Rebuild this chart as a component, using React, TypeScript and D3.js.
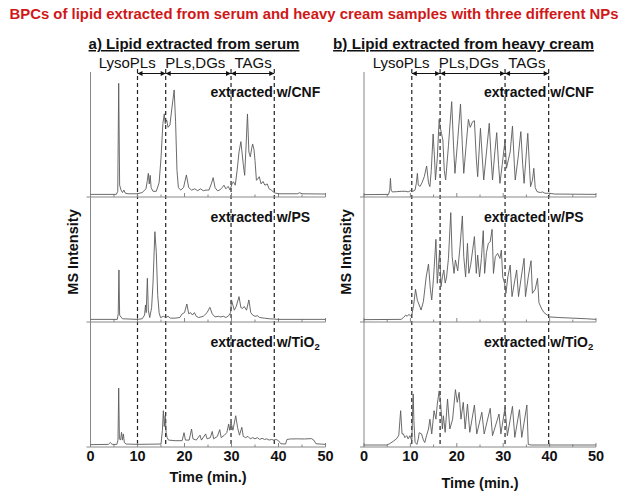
import React from "react";
import * as d3 from "d3";

type P = [number, number];

const titleText = "BPCs of lipid extracted from serum and heavy cream samples with three different NPs";
const panelTitles = ["a) Lipid extracted from serum", "b) Lipid extracted from heavy cream"];
const timeTicks = [0, 10, 20, 30, 40, 50];
const minorTicks = [5, 15, 25, 35, 45];
const regionLabels = ["LysoPLs", "PLs,DGs", "TAGs"];
const serumBounds = [10, 16, 29.9, 39.1];
const creamBounds = [10.3, 16.4, 30.4, 39.8];
const serumLabelPos = [7.8, 22.3, 34.6];
const creamLabelPos = [8.0, 22.6, 35.1];
const sampleNames = ["CNF", "PS", "TiO2"];

const serumCNF: P[] = [[0,0.5],[5.5,0.5],[5.8,3],[6.0,90.8],[6.2,8],[6.5,4],[6.8,2],[7.1,4],[7.4,1.5],[8,1],[10,1],[11,2],[11.8,5],[12.1,12],[12.3,17.6],[12.5,9],[12.7,16],[12.9,6],[13.3,3],[14,3],[14.6,10],[15.0,30],[15.4,58],[15.7,66],[15.9,58],[16.2,61],[16.5,55],[16.9,57],[17.3,70],[17.8,85.4],[18.1,60],[18.4,20],[18.7,6],[19.2,4],[19.8,6],[20.4,16.3],[20.9,6],[21.5,4],[22.2,5],[22.8,3.5],[23.4,5],[24,3.5],[24.6,4],[25.2,4],[25.7,9],[26.1,14.1],[26.5,6],[27,3.5],[27.5,4],[28,6],[28.4,8],[28.8,5],[29.3,7],[29.7,4],[30.1,9],[30.4,10.8],[30.8,8],[31.2,20],[31.6,35],[32.0,43.4],[32.5,25],[32.8,16],[33.1,40],[33.4,65.9],[33.7,35],[34.0,31],[34.3,38],[34.5,41.5],[34.8,36.6],[35.0,28],[35.3,12],[35.6,13],[35.9,14.9],[36.3,9],[36.7,11],[37.1,8],[37.6,9],[38,5],[38.5,4],[39,2],[39.4,1.5],[40,1],[44,1],[44.5,1.8],[45,1],[50,0.8]];

const serumPS: P[] = [[0,0.5],[5.7,0.5],[5.9,5],[6.05,40.7],[6.2,4],[6.5,2.4],[6.8,1],[10,0.5],[11,1],[11.5,4],[11.7,12.2],[11.85,6],[12.1,33.9],[12.3,8],[12.6,2],[13.0,10],[13.3,30],[13.7,71.8],[14.0,55],[14.3,20],[14.6,6],[14.9,1.9],[15.5,3],[16,2],[16.5,3],[17,1.5],[18,1.5],[19,2],[19.5,5],[20.0,6],[20.5,13],[20.9,5],[21.3,6],[21.7,4],[22.1,6],[22.5,3],[23,2],[24,3],[24.8,6],[25.4,10.3],[25.9,5],[26.5,2.5],[27.2,3],[27.7,2.5],[28.3,3],[28.8,2],[29.4,3.5],[29.8,6],[30.0,16.3],[30.3,12],[30.6,8],[31.0,11],[31.6,19],[32.0,10],[32.4,9.5],[32.7,11],[33.2,8],[33.7,16.3],[34.1,6],[34.5,4],[35,3],[35.5,3.5],[36,2],[37,1.5],[38,1],[39,0.8],[40,0.5],[50,0.5]];

const serumTiO2: P[] = [[0,0.3],[3.8,0.5],[4.2,2],[4.6,0.5],[5.6,0.5],[5.85,4],[6.0,46.3],[6.15,5],[6.4,4],[6.6,10.3],[6.8,4],[7.0,9],[7.2,2],[7.6,0.8],[10,0.5],[15.0,0.8],[15.3,12],[15.5,27.9],[15.7,15],[15.9,23.8],[16.1,10],[16.3,6],[16.6,4],[18,3.5],[19.5,3.5],[19.9,10],[20.2,4],[21,4],[21.5,13],[21.8,5],[22.5,4],[23.3,8],[23.6,4],[24.5,9],[24.8,5],[25.5,6],[25.9,11],[26.2,5],[27,7],[27.5,12.5],[27.8,6],[28.5,8],[29,10],[29.4,17.1],[29.6,12],[29.9,18.4],[30.3,12],[30.9,23.8],[31.3,14],[31.7,8],[32.2,14.4],[32.5,7],[33,6],[33.5,7],[34,5],[34.5,6],[35,5],[35.5,6],[36,4.5],[36.5,5.5],[37,4.5],[37.5,5],[38,4],[38.5,4.5],[39,4],[39.5,4.5],[40,3.5],[40.5,1],[41.5,0.8],[41.8,4.5],[42.5,4.9],[44,5],[45.5,4.9],[47,5.2],[47.5,4],[48,1],[50,0.5]];

const creamCNF: P[] = [[0,0.3],[5.3,0.5],[5.55,4],[5.7,13.5],[5.85,4],[6.1,2.5],[7,2.7],[8,3],[9,3],[9.5,2.5],[10,3.5],[10.5,3],[11,4],[11.3,10],[11.5,17.6],[11.7,8],[12.1,7],[12.5,10],[13.0,15],[13.5,23.6],[13.9,10],[14.2,6.8],[14.5,20],[14.9,49.6],[15.2,30],[15.4,12.2],[15.8,30],[16.2,61.5],[16.4,55.6],[16.7,50],[17.0,44.7],[17.3,20],[17.6,12.2],[18.2,40],[18.9,75.9],[19.3,40],[19.6,17.6],[20.2,45],[20.8,74],[21.2,40],[21.5,17.6],[22.0,40],[22.5,61.5],[22.9,55],[23.4,59.6],[23.8,60.4],[24.2,30],[24.5,14.9],[24.8,35],[25.1,54.2],[25.5,30],[25.8,12.2],[26.4,35],[27.0,58.3],[27.4,30],[27.7,12.2],[28.2,35],[28.6,50.7],[29,25],[29.3,9.5],[29.8,25],[30.4,44.7],[30.7,21.7],[31.5,35],[32.0,56],[32.4,25],[32.6,12.2],[33.2,30],[33.8,51.5],[34.2,25],[34.5,9.5],[35.0,35],[35.3,50.1],[35.7,20],[35.9,6.8],[36.3,12],[36.6,21.7],[36.9,6],[37.3,2.7],[38,2],[38.5,2.5],[39,1.4],[40,1.4],[41,0.8],[50,0.5]];

const creamPS: P[] = [[0,0.3],[8,0.5],[8.5,2],[9,4],[9.3,3],[9.7,4.6],[10,3.3],[10.3,4],[10.7,12],[11.1,25],[11.5,16],[11.9,12.2],[12.3,8.1],[12.8,15],[13.4,35],[13.9,45.5],[14.3,25],[14.6,16.3],[15.0,35],[15.5,65.6],[15.8,29.8],[16.3,56.9],[16.6,27.1],[16.9,35.2],[17.2,40.7],[17.5,30],[17.8,35],[18.2,50],[18.7,87.3],[19.0,51.5],[19.4,37.9],[19.7,48.8],[20.2,40],[20.7,60],[21.2,84.6],[21.5,51.5],[21.9,35],[22.3,62.3],[22.6,37.9],[23.0,45],[23.8,67.8],[24.2,37.9],[24.5,52.8],[24.9,35],[25.3,50],[25.7,72.6],[26.0,37.9],[26.4,55],[26.8,62.3],[27.2,63.7],[27.6,73.7],[27.9,37.9],[28.3,51.5],[28.8,54.2],[29.3,50],[29.6,56.9],[29.9,35],[30.3,29.8],[30.6,21.7],[31.0,35],[31.5,44.7],[31.9,19],[32.4,30],[32.9,40.7],[33.3,19],[33.9,35],[34.5,50.1],[34.8,19],[35.4,35],[36.0,48.2],[36.3,21.7],[36.9,25],[37.4,33.9],[37.7,14.1],[38.3,9],[38.8,6],[39.5,4],[40,2.5],[42,2],[45,1.5],[48,1],[50,0.5]];

const creamTiO2: P[] = [[0,0],[4.9,0],[5.5,1],[6.3,3],[7.0,5],[7.5,8],[7.9,27.9],[8.2,9],[8.5,9],[8.8,6],[9.2,7.6],[9.5,5],[9.9,7.6],[10.3,3.5],[10.6,41.5],[10.75,20],[11.0,2.2],[11.4,0.5],[11.7,5],[11.9,10],[12.4,9],[12.8,4],[13.1,2],[13.5,8],[13.9,13],[14.2,21],[14.6,9],[15.1,27.9],[15.5,21],[15.8,33.3],[16.2,44],[16.5,34.7],[16.9,13],[17.1,23.8],[17.5,10.3],[18.0,37.4],[18.5,13],[19.1,21],[19.7,45],[20.1,34.7],[20.5,42.8],[20.9,21],[21.4,34.7],[21.8,13],[22.3,33.3],[22.8,10.3],[23.8,32.5],[24.3,9],[25.4,26.6],[25.9,9],[27.2,29.8],[27.7,7.6],[29.1,25.2],[29.5,9],[30.4,30.6],[30.9,7.6],[32.0,31.4],[32.5,6.2],[33.5,28.7],[34.0,6.2],[35.1,32.5],[35.4,0.5],[36,0],[50,0]];

const FONT = "'Liberation Sans', Arial, Helvetica, sans-serif";
const TOP = 72;
const SUB_H = 125;

function Panel({ x0, x1, title, titleX, titleSize, bounds, labelPos, traces, yLabelX, xLabelY }: any) {
  const x = d3.scaleLinear().domain([0, 50]).range([x0, x1]);
  const subs = traces.map((_: any, i: number) => {
    const bottom = TOP + SUB_H * (i + 1);
    return d3.scaleLinear().domain([0, 100]).range([bottom - 2, bottom - SUB_H]);
  });
  const arrowY = 73.5;
  const bottomAxis = TOP + SUB_H * 3;
  return (
    <g>
      <text x={titleX} y={49} fontFamily={FONT} fontWeight="bold" fontSize={titleSize} textAnchor="middle" fill="#111" textDecoration="underline">{title}</text>
      {regionLabels.map((l, i) => (
        <text key={l} x={x(labelPos[i])} y={68} fontFamily={FONT} fontSize={15} textAnchor="middle" fill="#111">{l}</text>
      ))}
      {bounds.slice(0, -1).map((b: number, i: number) => {
        const a = x(b), c = x(bounds[i + 1]);
        return (
          <g key={i}>
            <line x1={a} x2={c} y1={arrowY} y2={arrowY} stroke="#111" strokeWidth={1} />
            <path d={`M${a},${arrowY}l5,-2.5l0,5z`} fill="#111" />
            <path d={`M${c},${arrowY}l-5,-2.5l0,5z`} fill="#111" />
          </g>
        );
      })}
      {bounds.map((b: number, i: number) => (
        <line key={i} x1={x(b)} x2={x(b)} y1={69} y2={bottomAxis} stroke="#222" strokeWidth={1.2} strokeDasharray="4,3" />
      ))}
      <line x1={x0} x2={x0} y1={TOP} y2={bottomAxis} stroke="#888" strokeWidth={1} />
      {traces.map((tr: P[], i: number) => {
        const y = subs[i];
        const bottom = TOP + SUB_H * (i + 1);
        const line = d3.line<P>().x(d => x(d[0])).y(d => y(d[1]));
        return (
          <g key={i}>
            <line x1={x0} x2={x1} y1={bottom} y2={bottom} stroke="#888" strokeWidth={1} />
            <line x1={x0 - 4} x2={x0} y1={bottom} y2={bottom} stroke="#888" strokeWidth={1} />
            {timeTicks.map(t => (
              <line key={"M" + t} x1={x(t)} x2={x(t)} y1={bottom} y2={bottom - 4} stroke="#888" strokeWidth={1} />
            ))}
            {minorTicks.map(t => (
              <line key={"m" + t} x1={x(t)} x2={x(t)} y1={bottom} y2={bottom - 2.5} stroke="#888" strokeWidth={1} />
            ))}
            <path d={line(tr) || ""} fill="none" stroke="#5a5a5a" strokeWidth={0.9} />
            <text x={x0 + 120} y={bottom - 100} fontFamily={FONT} fontWeight="bold" fontSize={14} fill="#111">
              {sampleNames[i] === "TiO2" ? (
                <>
                  <tspan>extracted w/TiO</tspan>
                  <tspan dy={3} fontSize={9.5}>2</tspan>
                </>
              ) : (
                `extracted w/${sampleNames[i]}`
              )}
            </text>
          </g>
        );
      })}
      {timeTicks.map(t => (
        <text key={t} x={x(t)} y={461} fontFamily={FONT} fontWeight="bold" fontSize={14.5} textAnchor="middle" fill="#111">{t}</text>
      ))}
      <text x={x(25)} y={xLabelY} fontFamily={FONT} fontWeight="bold" fontSize={14.5} textAnchor="middle" fill="#111">Time (min.)</text>
      <text transform={`translate(${yLabelX},252) rotate(-90)`} fontFamily={FONT} fontWeight="bold" fontSize={14.5} textAnchor="middle" fill="#111">MS Intensity</text>
    </g>
  );
}

export default function App() {
  return (
    <svg width={628} height={498} style={{ position: "absolute", left: 0, top: 0, background: "#fff" }}>
      <rect width={628} height={498} fill="#fff" />
      <text x={314} y={19} fontFamily={FONT} fontWeight="bold" fontSize={14.9} textAnchor="middle" fill="#d01818">{titleText}</text>
      <Panel x0={90.5} x1={325.5} title={panelTitles[0]} titleX={194} titleSize={15} bounds={serumBounds} labelPos={serumLabelPos}
        traces={[serumCNF, serumPS, serumTiO2]} yLabelX={78} xLabelY={482} />
      <Panel x0={364} x1={596} title={panelTitles[1]} titleX={463.5} titleSize={15.2} bounds={creamBounds} labelPos={creamLabelPos}
        traces={[creamCNF, creamPS, creamTiO2]} yLabelX={351} xLabelY={488} />
    </svg>
  );
}
